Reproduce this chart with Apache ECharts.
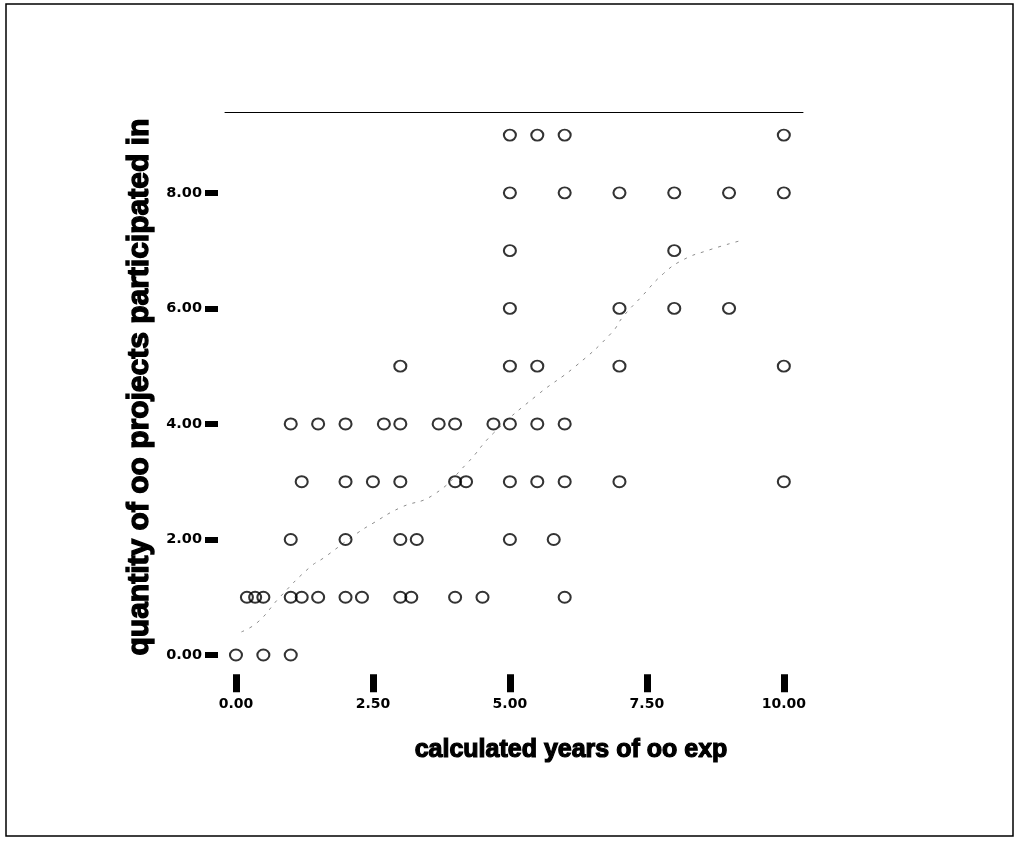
<!DOCTYPE html>
<html>
<head>
<meta charset="utf-8">
<script src="https://cdn.jsdelivr.net/npm/echarts@6/dist/echarts.min.js"></script>
<style>html,body{margin:0;padding:0;background:#fff;}#c{width:1016px;height:844px;}</style>
</head>
<body>
<div id="c"></div>
<script>
// Observations: calculated years of OO experience (x) vs quantity of OO projects (y)
var years = [
  0, 0.5, 1,
  0.2, 0.35, 0.5, 1.0, 1.2, 1.5, 2.0, 2.3, 3.0, 3.2, 4.0, 4.5, 6.0,
  1, 2, 3, 3.3, 5, 5.8,
  1.2, 2, 2.5, 3, 4, 4.2, 5, 5.5, 6, 7, 10,
  1, 1.5, 2, 2.7, 3, 3.7, 4, 4.7, 5, 5.5, 6,
  3, 5, 5.5, 7, 10,
  5, 7, 8, 9,
  5, 8,
  5, 6, 7, 8, 9, 10,
  5, 5.5, 6, 10
];
var projects = [
  0, 0, 0,
  1, 1, 1, 1, 1, 1, 1, 1, 1, 1, 1, 1, 1,
  2, 2, 2, 2, 2, 2,
  3, 3, 3, 3, 3, 3, 3, 3, 3, 3, 3,
  4, 4, 4, 4, 4, 4, 4, 4, 4, 4, 4,
  5, 5, 5, 5, 5,
  6, 6, 6, 6,
  7, 7,
  8, 8, 8, 8, 8, 8,
  9, 9, 9, 9
];
// Fitted (loess-like) trend curve
var trendX = [0.1, 0.4, 0.8, 1.35, 1.6, 2.2, 2.5, 3.0, 3.6, 4.2, 4.7, 5.5, 6.2, 6.86, 7.06, 7.4, 7.8, 8.16, 8.6, 9.2];
var trendY = [0.40, 0.57, 1.0, 1.52, 1.68, 2.1, 2.28, 2.55, 2.77, 3.3, 3.84, 4.5, 5.0, 5.58, 5.85, 6.2, 6.6, 6.84, 7.0, 7.17];
var xTicks = [0, 2.5, 5, 7.5, 10];
var yTicks = [0, 2, 4, 6, 8];
var xTitle = 'calculated years of oo exp';
var yTitle = 'quantity of oo projects participated in';

var pts = years.map(function (v, i) { return [v, projects[i]]; });
var trend = trendX.map(function (v, i) { return [v, trendY[i]]; });

var chart = echarts.init(document.getElementById('c'), null, {renderer: 'canvas'});
var fmt = function (v) { return Number(v).toFixed(2); };
chart.setOption({
  animation: false,
  backgroundColor: '#fff',
  grid: {left: 225, right: 213, top: 112, bottom: 171.7},
  graphic: [{
    type: 'rect', shape: {x: 6, y: 4, width: 1007, height: 832},
    style: {fill: 'none', stroke: '#000', lineWidth: 1.5}, silent: true, z: -1
  }],
  xAxis: [{
    type: 'value', min: -0.2, max: 10.35, offset: 2,
    name: xTitle, nameLocation: 'middle', nameGap: 63,
    nameTextStyle: {fontFamily: 'Liberation Sans', fontWeight: 'bold', fontSize: 25, color: '#000',
      textBorderColor: '#000', textBorderWidth: 1.2, padding: [0, 0, 0, 114]},
    axisLine: {show: false, onZero: false},
    splitLine: {show: false},
    axisTick: {show: true, inside: false, customValues: xTicks, length: 18, lineStyle: {color: '#000', width: 7}},
    axisLabel: {customValues: xTicks, formatter: fmt, margin: 23, fontFamily: 'DejaVu Sans', fontWeight: 'bold', fontSize: 14, color: '#000'}
  }, {
    type: 'value', position: 'top', min: -0.2, max: 10.35,
    axisLine: {show: true, onZero: false, lineStyle: {color: '#000', width: 1}},
    axisTick: {show: false}, axisLabel: {show: false}, splitLine: {show: false}
  }],
  yAxis: {
    type: 'value', min: -0.3, max: 9.4, offset: 7,
    name: yTitle, nameLocation: 'middle', nameGap: 61, nameRotate: 90,
    nameTextStyle: {fontFamily: 'Liberation Sans', fontWeight: 'bold', fontSize: 30, color: '#000',
      textBorderColor: '#000', textBorderWidth: 1.4, padding: [0, 0, 0, 10]},
    axisLine: {show: false, onZero: false},
    splitLine: {show: false},
    axisTick: {show: true, inside: false, customValues: yTicks, length: 13, lineStyle: {color: '#000', width: 6}},
    axisLabel: {customValues: yTicks, formatter: fmt, margin: 16, fontFamily: 'DejaVu Sans', fontWeight: 'bold', fontSize: 14.5, color: '#000'}
  },
  series: [{
    type: 'scatter', data: pts, symbol: 'circle', symbolSize: [12, 11],
    itemStyle: {color: 'rgba(0,0,0,0)', borderColor: '#000', borderWidth: 2},
    z: 3
  }, {
    type: 'line', data: trend, smooth: true, showSymbol: false, silent: true,
    lineStyle: {color: '#8c8c8c', width: 1, type: [3, 6]}, z: 2
  }]
});
</script>
</body>
</html>
